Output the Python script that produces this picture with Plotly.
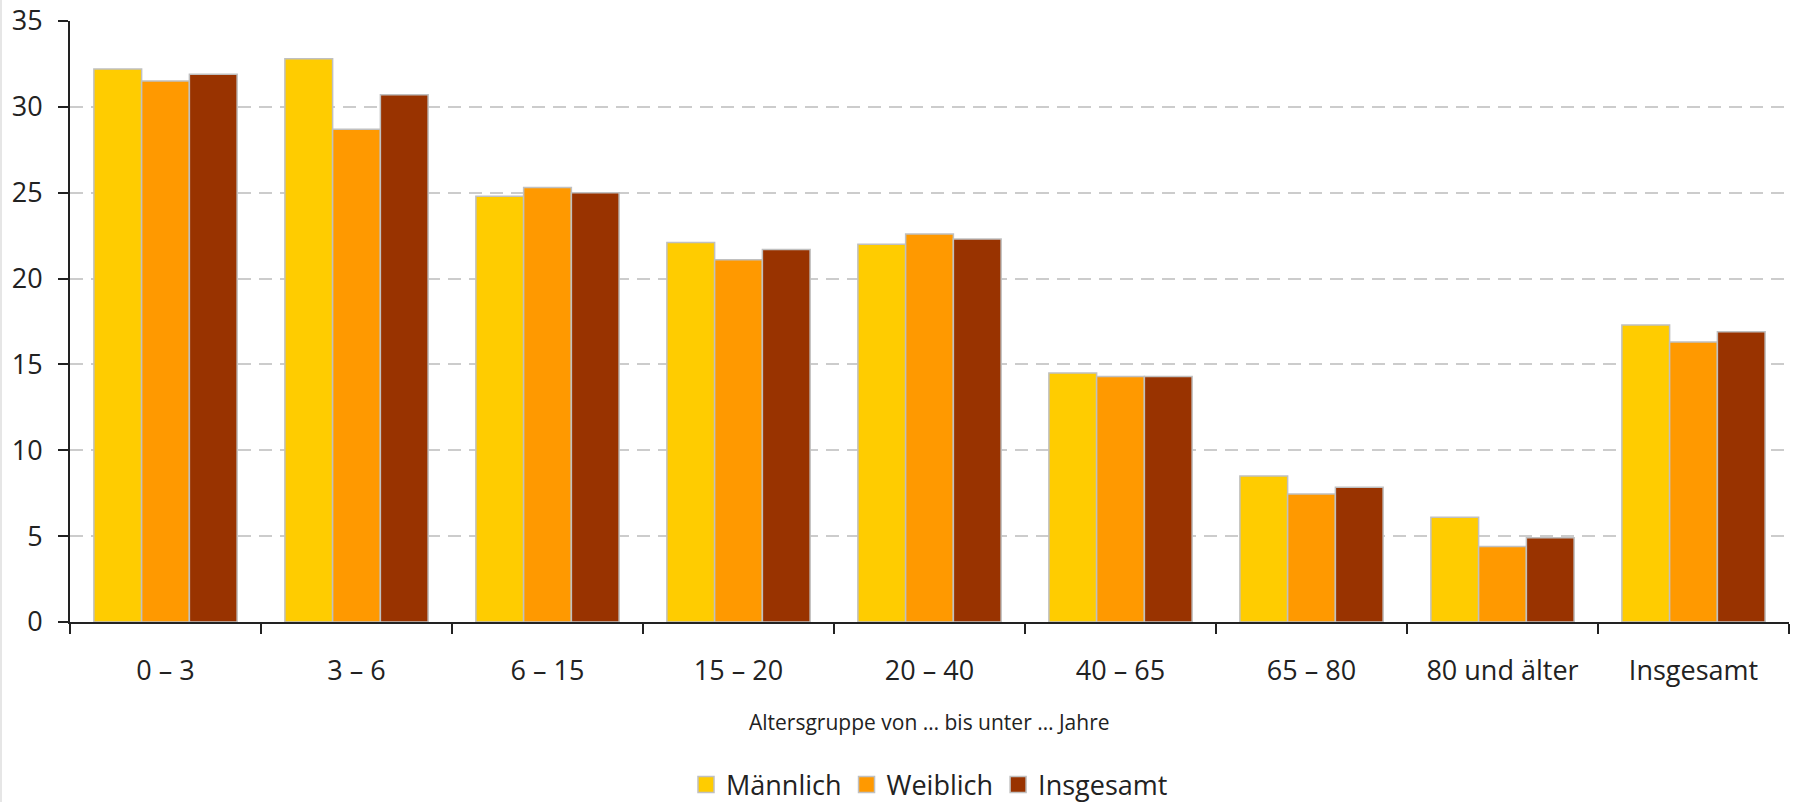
import plotly.graph_objects as go

# Altersgruppen (Kategorien der x-Achse)
kategorien = ["0 – 3", "3 – 6", "6 – 15", "15 – 20", "20 – 40",
              "40 – 65", "65 – 80", "80 und älter", "Insgesamt"]

# Anteile in Prozent je Geschlecht
maennlich = [32.2, 32.8, 24.8, 22.1, 22.0, 14.5, 8.5, 6.1, 17.3]
weiblich = [31.5, 28.7, 25.3, 21.1, 22.6, 14.3, 7.45, 4.4, 16.3]
insgesamt = [31.9, 30.7, 25.0, 21.7, 22.3, 14.3, 7.85, 4.9, 16.9]

serien = [("Männlich", maennlich, "#ffcc00"),
          ("Weiblich", weiblich, "#ff9900"),
          ("Insgesamt", insgesamt, "#993300")]

y_ticks = [0, 5, 10, 15, 20, 25, 30, 35]

FONT = "Open Sans, Noto Sans, sans-serif"
TEXT = "#222222"

fig = go.Figure()
for name, werte, farbe in serien:
    fig.add_trace(go.Bar(
        x=kategorien, y=werte, name=name,
        marker=dict(color=farbe, line=dict(color="#c0c0c0", width=1.5)),
        showlegend=False,
    ))
# Legendeneinträge mit größeren Symbolen
for name, werte, farbe in serien:
    fig.add_trace(go.Scatter(
        x=[None], y=[None], mode="markers", name=name,
        marker=dict(symbol="square", size=17, color=farbe,
                    line=dict(color="#c0c0c0", width=1.5)),
    ))

fig.update_layout(
    width=1797, height=802,
    margin=dict(l=70, r=8, t=21, b=180, autoexpand=False),
    paper_bgcolor="white", plot_bgcolor="white",
    barmode="group", bargap=0.25, bargroupgap=0,
    font=dict(family=FONT, color=TEXT, size=22),
    showlegend=True,
    legend=dict(orientation="h", xref="paper", x=0.5, xanchor="center",
                yref="paper", y=-0.271, yanchor="middle",
                font=dict(size=27, color=TEXT), itemwidth=30,
                tracegroupgap=0, bgcolor="rgba(0,0,0,0)"),
)

fig.update_xaxes(
    type="category", tickson="boundaries", automargin=False,
    showline=True, linecolor="#222222", linewidth=2,
    ticks="outside", ticklen=10, tickwidth=2, tickcolor="#222222",
    showgrid=False, tickfont=dict(size=27, color=TEXT),
    ticklabelstandoff=24,
    range=[-0.5, 8.5],
)
fig.update_yaxes(
    range=[0, 35], tickvals=y_ticks, automargin=False,
    showline=True, linecolor="#222222", linewidth=2,
    ticks="outside", ticklen=10, tickwidth=2, tickcolor="#222222",
    showgrid=True, gridcolor="#cccccc", gridwidth=2, griddash="13px,8px",
    zeroline=False, tickfont=dict(size=27, color=TEXT),
    ticklabelstandoff=10,
)

fig.add_annotation(
    text="Altersgruppe von … bis unter … Jahre",
    xref="paper", yref="paper", x=0.5, y=-0.167,
    xanchor="center", yanchor="middle", showarrow=False,
    font=dict(size=21, color=TEXT),
)

# schmaler grauer Rand links
fig.add_shape(type="rect", xref="paper", yref="paper",
              x0=-70 / 1719, x1=-68 / 1719, y0=-180 / 601, y1=1 + 21 / 601,
              fillcolor="#e6e6e6", line=dict(width=0), layer="below")

fig.write_html("out.html")
